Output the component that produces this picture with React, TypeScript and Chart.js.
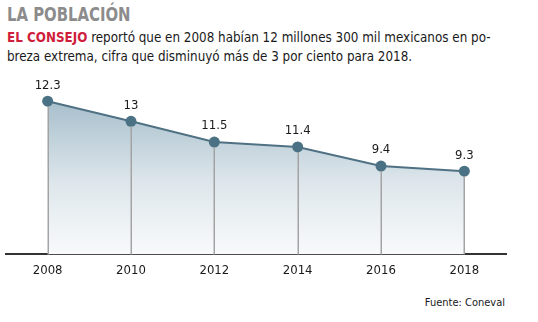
import React, { useEffect, useRef } from "react";
import { Chart, registerables } from "chart.js";

Chart.register(...registerables);

// Years on the x axis
const years = ["2008", "2010", "2012", "2014", "2016", "2018"];
// Values printed above each point (millions of people in extreme poverty)
const labelValues = ["12.3", "13", "11.5", "11.4", "9.4", "9.3"];
// Heights of the points as drawn in the infographic
const plottedHeights = [12.3, 11.44, 10.55, 10.34, 9.52, 9.3];

const titleText = "LA POBLACIÓN";
const leadText = "EL CONSEJO";
const bodyLine1 = " reportó que en 2008 habían 12 millones 300 mil mexicanos en po-";
const bodyLine2 = "breza extrema, cifra que disminuyó más de 3 por ciento para 2018.";
const sourceText = "Fuente: Coneval";

const FONT = "'DejaVu Sans Condensed', 'Liberation Sans Narrow', 'DejaVu Sans', sans-serif";

const dropLinesAndLabels = {
  id: "dropLinesAndLabels",
  afterDatasetsDraw(chart: any) {
    const { ctx, chartArea } = chart;
    const meta = chart.getDatasetMeta(0);
    ctx.save();
    ctx.strokeStyle = "#a3a3a3";
    ctx.lineWidth = 1.5;
    meta.data.forEach((pt: any) => {
      ctx.beginPath();
      ctx.moveTo(Math.round(pt.x) + 0.25, pt.y + 5);
      ctx.lineTo(Math.round(pt.x) + 0.25, chartArea.bottom);
      ctx.stroke();
    });
    ctx.fillStyle = "#1a1a1a";
    ctx.font = `13px ${FONT}`;
    ctx.textAlign = "center";
    ctx.textBaseline = "middle";
    meta.data.forEach((pt: any, i: number) => {
      ctx.fillText(labelValues[i], pt.x, pt.y - 16);
    });
    ctx.restore();
  },
};

function LineChart() {
  const ref = useRef<HTMLCanvasElement>(null);
  useEffect(() => {
    if (!ref.current) return;
    const chart = new Chart(ref.current, {
      type: "line",
      data: {
        labels: years,
        datasets: [
          {
            data: plottedHeights,
            borderColor: "#4f7183",
            borderWidth: 2,
            pointRadius: 5.5,
            pointBackgroundColor: "#4a7184",
            pointBorderColor: "#4a7184",
            pointBorderWidth: 0,
            tension: 0,
            fill: "start",
            backgroundColor: (c: any) => {
              const { chart } = c;
              const { ctx, chartArea } = chart;
              if (!chartArea) return "#c9d6de";
              const g = ctx.createLinearGradient(0, chartArea.top + 20, 0, chartArea.bottom);
              g.addColorStop(0, "#a7bfcc");
              g.addColorStop(0.55, "#dfe7ec");
              g.addColorStop(1, "#f8fafb");
              return g;
            },
          },
        ],
      },
      options: {
        animation: false,
        responsive: false,
        maintainAspectRatio: false,
        layout: { padding: { left: 6, right: 32, top: 10, bottom: 8 } },
        plugins: { legend: { display: false }, tooltip: { enabled: false } },
        scales: {
          x: {
            offset: true,
            grid: { display: false, drawTicks: false },
            border: { display: true, color: "#333333", width: 2 },
            ticks: {
              color: "#1a1a1a",
              padding: 8,
              font: { family: FONT, size: 13 },
            },
          },
          y: {
            display: false,
            min: 5.73,
            max: 13.21,
          },
        },
      },
      plugins: [dropLinesAndLabels],
    });
    return () => chart.destroy();
  }, []);
  return (
    <canvas
      ref={ref}
      width={538}
      height={224}
      style={{ position: "absolute", left: 0, top: 70, width: 538, height: 224 }}
    />
  );
}

export default function App() {
  return (
    <div
      style={{
        position: "absolute",
        left: 0,
        top: 0,
        width: 538,
        height: 322,
        background: "#ffffff",
        overflow: "hidden",
        fontFamily: FONT,
      }}
    >
      <div
        style={{
          position: "absolute",
          left: 7,
          top: 3,
          fontSize: 19,
          fontWeight: 700,
          color: "#8c8c8c",
          whiteSpace: "nowrap",
          transform: "scaleX(0.87)",
          transformOrigin: "left center",
        }}
      >
        {titleText}
      </div>
      <div
        style={{
          position: "absolute",
          left: 7,
          top: 28,
          fontSize: 13.3,
          lineHeight: "19px",
          color: "#1a1a1a",
          whiteSpace: "nowrap",
        }}
      >
        <div>
          <span style={{ color: "#cf1f3c", fontWeight: 700 }}>{leadText}</span>
          {bodyLine1}
        </div>
        <div>{bodyLine2}</div>
      </div>
      <LineChart />
      <div
        style={{
          position: "absolute",
          right: 33,
          top: 296,
          fontSize: 11,
          color: "#1a1a1a",
          whiteSpace: "nowrap",
        }}
      >
        {sourceText}
      </div>
    </div>
  );
}
